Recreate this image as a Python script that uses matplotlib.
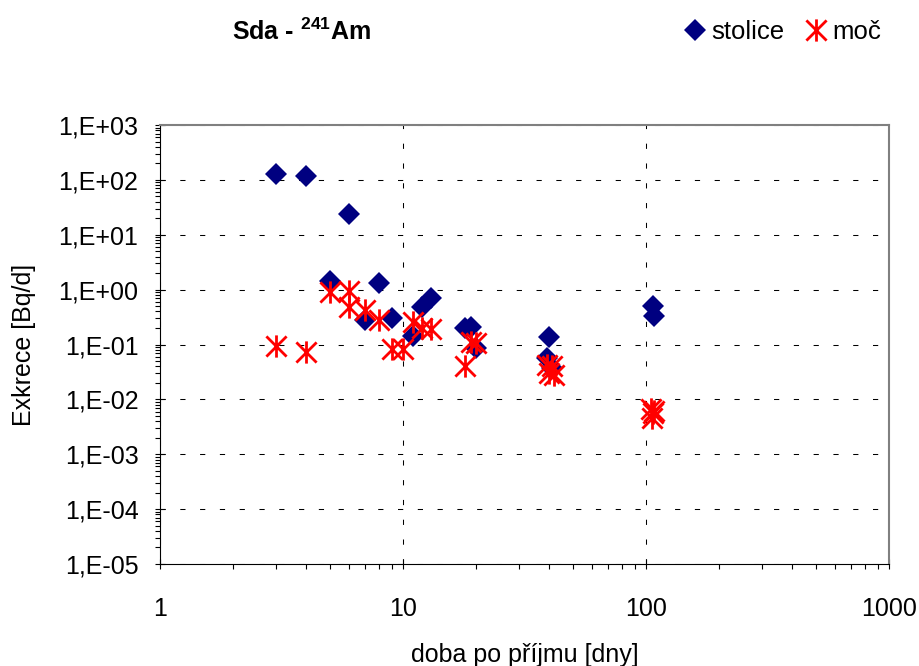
import matplotlib
matplotlib.use("Agg")
import matplotlib.pyplot as plt
from matplotlib.path import Path
from matplotlib.ticker import FuncFormatter, LogLocator, FixedLocator
import numpy as np

plt.rcParams['font.family'] = ['Liberation Sans', 'DejaVu Sans']
plt.rcParams['mathtext.fontset'] = 'custom'
plt.rcParams['mathtext.rm'] = 'Liberation Sans'
plt.rcParams['mathtext.bf'] = 'Liberation Sans:bold'

# data
stolice_x = [3, 4, 6, 5, 8, 7, 9, 11, 12, 13, 18, 19, 20, 39, 40, 41, 107, 108]
stolice_y = [128, 117, 23.6, 1.46, 1.31, 0.28, 0.30, 0.14, 0.49, 0.70, 0.20, 0.21, 0.085,
             0.056, 0.136, 0.038, 0.50, 0.33]
moc_x = [3, 4, 5, 6, 6, 7, 8, 9, 10, 11, 12, 13, 18, 19, 20, 39, 40, 41, 42, 105, 106, 107, 108]
moc_y = [0.094, 0.072, 0.92, 0.95, 0.49, 0.42, 0.28, 0.082, 0.082, 0.26, 0.20, 0.19,
         0.041, 0.113, 0.105, 0.042, 0.030, 0.040, 0.028, 0.0068, 0.0045, 0.0056, 0.0062]
x_ticks = [1, 10, 100, 1000]
x_tick_labels = ['1', '10', '100', '1000']
y_exponents = [3, 2, 1, 0, -1, -2, -3, -4, -5]

# asterisk marker
star = Path([(-1, -1), (1, 1), (-1, 1), (1, -1), (0, -1.1), (0, 1.1)],
            [Path.MOVETO, Path.LINETO, Path.MOVETO, Path.LINETO, Path.MOVETO, Path.LINETO])

fig = plt.figure(figsize=(9.19, 6.66), dpi=100)
ax = fig.add_axes([160/919, 1-564/666, (889-160)/919, (564-125)/666])
ax.set_xscale('log')
ax.set_yscale('log')
ax.set_xlim(1, 1000)
ax.set_ylim(1e-5, 1e3)

ax.plot(stolice_x, stolice_y, linestyle='none', marker='D', markersize=11,
        color='#000080', markeredgewidth=0, label='stolice', zorder=3)
ax.plot(moc_x, moc_y, linestyle='none', marker=star, markersize=16,
        color='#ff0000', markeredgewidth=2.0, markerfacecolor='none',
        markeredgecolor='#ff0000', label='moč', zorder=4)

ax.grid(True, which='major', color='black', linestyle=(0, (5, 14)), linewidth=0.75)
ax.set_axisbelow(True)

ax.xaxis.set_major_locator(FixedLocator(x_ticks))
ax.set_xticklabels(x_tick_labels)
ax.yaxis.set_major_locator(FixedLocator([10.0**e for e in y_exponents]))
ax.yaxis.set_major_formatter(FuncFormatter(lambda v, p: "1,E%+03d" % int(round(np.log10(v)))))
ax.xaxis.set_minor_locator(LogLocator(base=10, subs=np.arange(2, 10), numticks=20))
ax.yaxis.set_minor_locator(LogLocator(base=10, subs=np.arange(2, 10), numticks=20))
ax.xaxis.set_minor_formatter(plt.NullFormatter())
ax.yaxis.set_minor_formatter(plt.NullFormatter())

ax.tick_params(axis='both', which='major', direction='inout', length=7, width=0.8,
               labelsize=18, colors='black')
ax.tick_params(axis='both', which='minor', direction='out', length=3.5, width=0.8)
ax.tick_params(axis='y', which='major', pad=12)
ax.tick_params(axis='x', which='major', pad=20)

for s in ['left', 'bottom']:
    ax.spines[s].set_color('black')
    ax.spines[s].set_linewidth(0.8)
for s in ['top', 'right']:
    ax.spines[s].set_color('#808080')
    ax.spines[s].set_linewidth(1.5)

ax.set_xlabel('doba po příjmu [dny]', fontsize=18, labelpad=16)
ax.set_ylabel('Exkrece [Bq/d]', fontsize=18, labelpad=16)

fig.text(302/919, 1-32/666, r'Sda - $^{\mathbf{241}}$Am', fontsize=18, fontweight='bold',
         ha='center', va='center')

leg = fig.legend(loc='center', bbox_to_anchor=(783/919, 1-32/666), ncol=2, frameon=False,
                 fontsize=18.5, handlelength=0.8, handletextpad=0.25, columnspacing=0.8,
                 borderpad=0)

fig.savefig('out.png', dpi=100)
